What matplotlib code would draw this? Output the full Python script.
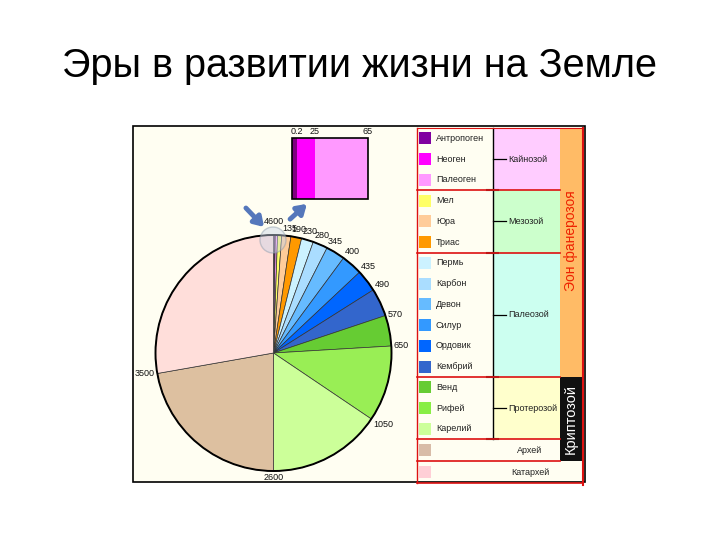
import numpy as np
import matplotlib
matplotlib.use("Agg")
import matplotlib.pyplot as plt
from matplotlib.patches import Rectangle, Circle

plt.rcParams['font.family'] = ['Liberation Sans', 'DejaVu Sans']

# ---------------------------------------------------------------------
# Data
# ---------------------------------------------------------------------
periods = ["Антропоген", "Неоген", "Палеоген", "Мел", "Юра", "Триас",
           "Пермь", "Карбон", "Девон", "Силур", "Ордовик", "Кембрий",
           "Венд", "Рифей", "Карелий", "Архей", "Катархей"]
# angular size of each wedge on the drawn pie (degrees, clockwise from top)
wedge_deg = [0.4, 0.5, 1.1, 2.0, 4.5, 5.3, 5.9, 7.3, 9.4, 10.4, 10.9,
             13.8, 15.1, 37.4, 56.0, 80.0, 100.0]
# age (million years) written at the far end of each wedge
end_ages = ["", "", "", "135", "190", "230", "280", "345", "400", "435",
            "490", "570", "650", "1050", "2600", "3500", "4600"]
pie_colors = ["#8000a0", "#ff00ff", "#ff99ff", "#ffff66", "#ffcc99",
              "#ff9900", "#ccf2ff", "#aaddff", "#66bbff", "#3399ff",
              "#0066ff", "#3366cc", "#66cc33", "#99ee55", "#ccff99",
              "#ddc0a0", "#ffdeda"]
legend_colors = ["#8000a0", "#ff00ff", "#ff99ff", "#ffff66", "#ffcc99",
                 "#ff9900", "#ccf2ff", "#aaddff", "#66bbff", "#3399ff",
                 "#0066ff", "#3366cc", "#66cc33", "#88ee44", "#ccff99",
                 "#d8bca8", "#ffcfd6"]

# Cenozoic close-up bar
inset_widths = [5, 18, 53]
inset_colors = ["#800080", "#ff00ff", "#ff99ff"]
inset_labels = ["0.2", "25", "65"]

eras = ["Кайнозой", "Мезозой", "Палеозой", "Протерозой"]
era_colors = ["#ffccff", "#ccffcc", "#ccfff0", "#ffffcc"]
era_sizes = [3, 3, 6, 3]          # number of periods in each era

eons = ["Эон фанерозоя", "Криптозой"]

# ---------------------------------------------------------------------
# Figure and page-coordinate canvas
# ---------------------------------------------------------------------
fig = plt.figure(figsize=(7.2, 5.4), dpi=100)
fig.patch.set_facecolor("white")

fig.text(0.5, 1 - 66 / 540, "Эры в развитии жизни на Земле",
         ha="center", va="center", fontsize=28.5, color="black")

bg = fig.add_axes([0, 0, 1, 1])
bg.set_xlim(0, 720)
bg.set_ylim(540, 0)
bg.axis("off")

cream = "#fffef2"
bg.add_patch(Rectangle((133, 126), 452, 356, facecolor=cream,
                       edgecolor="black", lw=1.2))

# ---------------------------------------------------------------------
# Legend / timetable panel
# ---------------------------------------------------------------------
x_sw, x_div, x_eon, x_end = 417, 493, 560, 582
row_top = 128
row_h = 20.75
n_main = 15

y = row_top
for name, col, size in zip(eras, era_colors, era_sizes):
    h = size * row_h
    bg.add_patch(Rectangle((x_div, y), x_eon - x_div, h, facecolor=col,
                           edgecolor="none"))
    bg.plot([x_div, x_div + 13], [y + h / 2, y + h / 2], color="black", lw=0.9)
    bg.text(x_div + 15, y + h / 2, name, fontsize=6.5, ha="left",
            va="center", color="#222222")
    y += h
y_prot_end = y

# period rows with swatches
for i, (name, col) in enumerate(zip(periods, legend_colors)):
    if i < n_main:
        yc = row_top + (i + 0.5) * row_h
        bg.text(x_sw + 19, yc, name, fontsize=6.5, ha="left", va="center",
                color="#222222")
    else:
        yc = y_prot_end + (i - n_main + 0.5) * 22
        bg.text(530, yc, name, fontsize=6.5, ha="center", va="center",
                color="#222222")
    bg.add_patch(Rectangle((x_sw + 2, yc - 6), 12, 12, facecolor=col,
                           edgecolor="none"))

# dividing lines
bg.plot([x_div, x_div], [row_top, y_prot_end], color="black", lw=1)
y = row_top
for size in era_sizes:
    y += size * row_h
    bg.plot([x_div - 6, x_div + 5], [y, y], color="#333333", lw=1.5)
    bg.plot([x_sw, x_eon], [y, y], color="#dd1111", lw=1.2)
bg.plot([x_sw, x_eon], [y_prot_end + 22, y_prot_end + 22], color="#dd1111", lw=1.2)
bg.plot([x_sw, x_end], [y_prot_end + 44, y_prot_end + 44], color="#dd1111", lw=1.2)
bg.plot([x_sw, x_sw], [row_top, y_prot_end + 44], color="#dd1111", lw=1)
bg.plot([x_end + 1, x_end + 1], [row_top, y_prot_end + 46], color="#dd1111", lw=1.5)
bg.plot([x_sw, x_end], [row_top, row_top], color="#dd1111", lw=0.8)

# eon column
y_phan_end = row_top + sum(era_sizes[:3]) * row_h
bg.add_patch(Rectangle((x_eon, row_top), x_end - x_eon, y_phan_end - row_top,
                       facecolor="#ffbb66", edgecolor="none"))
bg.text((x_eon + x_end) / 2, (row_top + y_phan_end) / 2 - 12, eons[0],
        rotation=90, ha="center", va="center", fontsize=10, color="#ee2200")
bg.add_patch(Rectangle((x_eon, y_phan_end), x_end - x_eon,
                       y_prot_end + 22 - y_phan_end, facecolor="#111111",
                       edgecolor="none"))
bg.text((x_eon + x_end) / 2, (y_phan_end + y_prot_end + 22) / 2, eons[1],
        rotation=90, ha="center", va="center", fontsize=10.5, color="white")

# ---------------------------------------------------------------------
# Pie
# ---------------------------------------------------------------------
cx, cy, r = 273.5, 353, 118
half = 1.25 * r
ax = fig.add_axes([(cx - half) / 720, (540 - cy - half) / 540,
                   2 * half / 720, 2 * half / 540])
ax.pie(wedge_deg, colors=pie_colors, startangle=90, counterclock=False,
       wedgeprops=dict(edgecolor="#333333", linewidth=0.5))
ax.add_patch(Circle((0, 0), 1.0, facecolor="none", edgecolor="black", lw=1.4))
ax.set_xlim(-1.25, 1.25)
ax.set_ylim(-1.25, 1.25)
ax.set_aspect("equal")

ends = np.cumsum(wedge_deg)
for theta, lab in zip(ends, end_ages):
    if not lab:
        continue
    t = np.radians(theta)
    rr = 1.02
    x, y = rr * np.sin(t), rr * np.cos(t)
    if theta >= 359:
        ha, va, y = "center", "bottom", 1.08
    elif theta < 62:
        ha, va = "left", "bottom"
    elif theta < 100:
        ha, va = "left", "center"
    elif theta < 170:
        ha, va = "left", "top"
    elif theta < 200:
        ha, va = "center", "top"
    else:
        ha, va = "right", "center"
    ax.text(x, y, lab, ha=ha, va=va, fontsize=6.5, color="#111111",
            clip_on=False)

# ---------------------------------------------------------------------
# Close-up of the Cenozoic and pointer arrows
# ---------------------------------------------------------------------
top = fig.add_axes([0, 0, 1, 1])
top.set_xlim(0, 720)
top.set_ylim(540, 0)
top.axis("off")
top.patch.set_alpha(0)

lefts = 292 + np.concatenate([[0], np.cumsum(inset_widths)[:-1]])
top.barh(168.5, inset_widths, left=lefts, height=61, color=inset_colors,
         edgecolor="none")
top.add_patch(Rectangle((292, 138), sum(inset_widths), 61, facecolor="none",
                        edgecolor="black", lw=1.2))
for lft, w, lab in zip(lefts, inset_widths, inset_labels):
    top.text(lft + w, 132, lab, ha="center", va="center", fontsize=6.5,
             color="#111111")

top.add_patch(Circle((273, 240), 13, facecolor="#c8d4e8", alpha=0.45,
                     edgecolor="#8899aa", lw=1))
top.annotate("", xy=(266, 229), xytext=(244, 206),
             arrowprops=dict(arrowstyle="-|>,head_length=0.55,head_width=0.35",
                             color="#5577bb", lw=3.5))
top.annotate("", xy=(309, 202), xytext=(288, 221),
             arrowprops=dict(arrowstyle="-|>,head_length=0.55,head_width=0.35",
                             color="#5577bb", lw=3.5))

fig.savefig("out.png", dpi=100)
